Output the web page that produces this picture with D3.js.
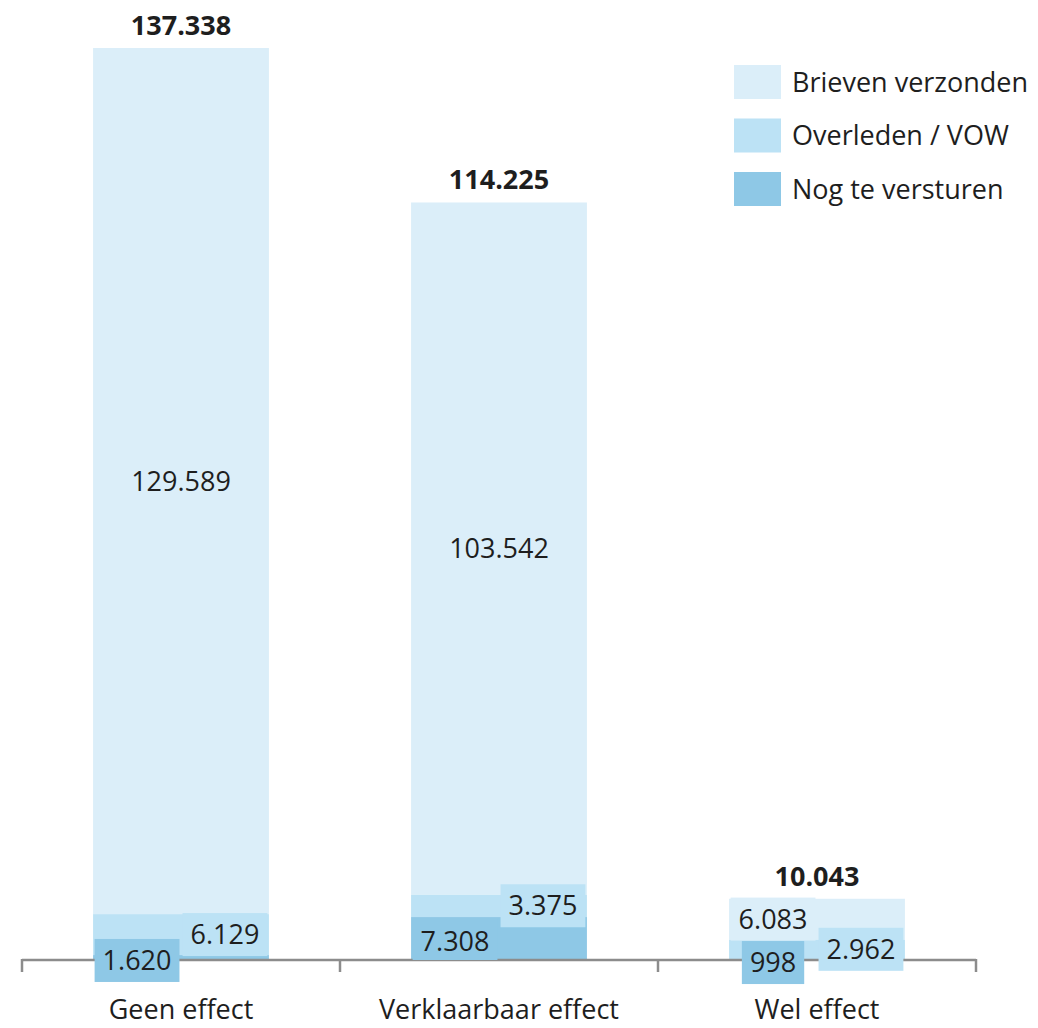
<!DOCTYPE html>
<html lang="nl">
<head>
    <meta charset="UTF-8">
    <title>Brieven per effectgroep</title>
    <script src="https://cdnjs.cloudflare.com/ajax/libs/d3/7.8.5/d3.min.js"></script>
    <style>
        body {
            margin: 0;
            background-color: #ffffff;
            font-family: "Open Sans", "Noto Sans", sans-serif;
        }
        svg text {
            fill: #1e1e1e;
        }
    </style>
</head>
<body>
    <svg width="1038" height="1028"></svg>
    <script>
// data
const categories = ["Geen effect", "Verklaarbaar effect", "Wel effect"];
const seriesNames = ["Nog te versturen", "Overleden / VOW", "Brieven verzonden"];
const nogTeVersturen = [1620, 7308, 998];
const overledenVow = [6129, 3375, 2962];
const brievenVerzonden = [129589, 103542, 6083];
// where each data label sits inside its bar (left / right quarter or centre)
const labelSpots = [
    ["left", "left", "left"],
    ["right", "right", "right"],
    ["center", "center", "left"]
];
// the value axis does not start at zero in the original
const axisMin = 880;

const colors = ["#8ec8e6", "#bce2f5", "#dbeef9"];

const svg = d3.select("svg");
const width = +svg.attr("width");
const height = +svg.attr("height");
const plot = { left: 22, right: 976, top: 48, bottom: 960 };

const nl = d3.formatLocale({ decimal: ",", thousands: ".", grouping: [3], currency: ["€", ""] });
const fmt = nl.format(",d");

const seriesValues = [nogTeVersturen, overledenVow, brievenVerzonden];
const rows = categories.map((c, i) => {
    const row = { category: c };
    seriesNames.forEach((s, j) => row[s] = seriesValues[j][i]);
    return row;
});
const totals = rows.map(r => d3.sum(seriesNames, s => r[s]));

const stacked = d3.stack().keys(seriesNames)(rows);

const x = d3.scaleBand()
    .domain(categories)
    .range([plot.left, plot.right])
    .padding(0);

const barWidth = x.bandwidth() * 0.553;
const barX = c => x(c) + (x.bandwidth() - barWidth) / 2;

const y = d3.scaleLinear()
    .domain([axisMin, d3.max(totals)])
    .range([plot.bottom, plot.top]);

svg.append("clipPath").attr("id", "plot-clip")
    .append("rect")
    .attr("x", 0).attr("y", 0)
    .attr("width", width).attr("height", plot.bottom);

// bars
const layers = svg.append("g")
    .attr("clip-path", "url(#plot-clip)")
    .selectAll("g")
    .data(stacked)
    .enter().append("g")
    .attr("fill", (d, i) => colors[i]);

layers.selectAll("rect")
    .data(d => d)
    .enter().append("rect")
    .attr("x", d => barX(d.data.category))
    .attr("y", d => y(d[1]))
    .attr("width", barWidth)
    .attr("height", d => y(d[0]) - y(d[1]));

// category axis with ticks between the groups
const axis = svg.append("g")
    .attr("transform", `translate(0,${plot.bottom})`);

axis.append("line")
    .attr("x1", plot.left).attr("x2", plot.right)
    .attr("stroke", "#8c8c8c").attr("stroke-width", 2.5);

const boundaries = categories.map(c => x(c)).concat([x(categories[categories.length - 1]) + x.bandwidth()]);
axis.selectAll(".tick")
    .data(boundaries)
    .enter().append("line")
    .attr("class", "tick")
    .attr("x1", d => d).attr("x2", d => d)
    .attr("y1", -1).attr("y2", 12)
    .attr("stroke", "#8c8c8c").attr("stroke-width", 2.5);

axis.selectAll(".cat")
    .data(categories)
    .enter().append("text")
    .attr("class", "cat")
    .attr("x", d => x(d) + x.bandwidth() / 2)
    .attr("y", 59)
    .attr("text-anchor", "middle")
    .attr("font-size", 27)
    .text(d => d);

// data labels with a fill matching their segment
const labelX = (c, spot) => {
    if (spot === "left") return barX(c) + barWidth / 4;
    if (spot === "right") return barX(c) + barWidth * 3 / 4;
    return barX(c) + barWidth / 2;
};

stacked.forEach((layer, j) => {
    layer.forEach((d, i) => {
        const cx = labelX(d.data.category, labelSpots[j][i]);
        const cy = (y(d[0]) + y(d[1])) / 2;
        const g = svg.append("g").attr("transform", `translate(${cx},${cy})`);
        const box = g.append("rect").attr("fill", colors[j]);
        const t = g.append("text")
            .attr("text-anchor", "middle")
            .attr("dy", "0.36em")
            .attr("font-size", 27)
            .text(fmt(d[1] - d[0]));
        const bb = t.node().getBBox();
        if (labelSpots[j][i] !== "center") {
            // a label sitting well inside the bar keeps its box above the axis
            const room = plot.bottom - cy;
            const boxBottom = room > 15 && room < 21.5 ? room : 21.5;
            box.attr("x", bb.x - 8).attr("y", -21.5)
                .attr("width", bb.width + 16).attr("height", 21.5 + boxBottom);
        }
    });
});

// totals above each bar
svg.selectAll(".total")
    .data(rows)
    .enter().append("text")
    .attr("class", "total")
    .attr("x", d => barX(d.category) + barWidth / 2)
    .attr("y", (d, i) => y(totals[i]) - 13)
    .attr("text-anchor", "middle")
    .attr("font-size", 27)
    .attr("font-weight", "bold")
    .text((d, i) => fmt(totals[i]));

// legend, top entry is the top of the stack
const legendOrder = seriesNames.map((s, j) => ({ name: s, color: colors[j] })).reverse();
const legend = svg.append("g").attr("transform", "translate(734,65)");
const item = legend.selectAll("g")
    .data(legendOrder)
    .enter().append("g")
    .attr("transform", (d, i) => `translate(0,${i * 53.5})`);

item.append("rect")
    .attr("width", 47).attr("height", 34)
    .attr("fill", d => d.color);

item.append("text")
    .attr("x", 58).attr("y", 17)
    .attr("dy", "0.36em")
    .attr("font-size", 27)
    .text(d => d.name);
    </script>
</body>
</html>
